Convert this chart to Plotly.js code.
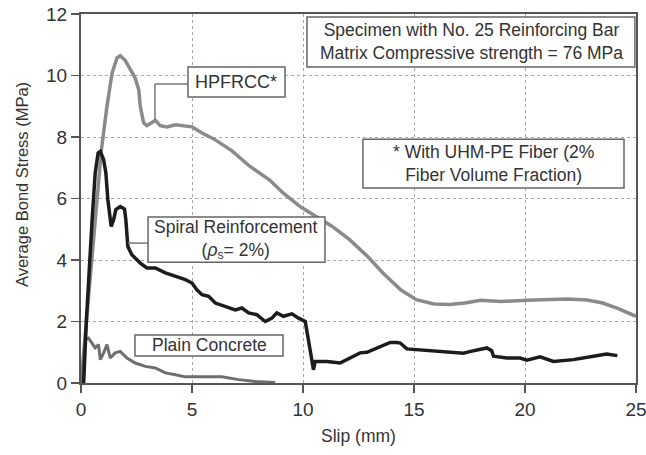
<!DOCTYPE html>
<html>
<head>
<meta charset="utf-8">
<script src="https://cdn.plot.ly/plotly-3.0.1.min.js"></script>
<style>
  html, body { margin: 0; padding: 0; background: #fff; }
  #chart { width: 646px; height: 455px; }
</style>
</head>
<body>
<div id="chart"></div>
<script>
// Bond stress vs. slip for No. 25 bar specimens
const hpfrccSlip = [0, 0.3, 0.6, 0.92, 1.17, 1.40, 1.62, 1.77, 1.99, 2.22, 2.44, 2.60, 2.67, 2.82, 2.97, 3.17, 3.35, 3.57, 3.87, 4.25, 4.70, 5.0, 5.45, 6.0, 6.8, 7.6, 8.5, 9.1, 9.9, 10.6, 11.3, 12.1, 12.9, 13.6, 14.4, 15.1, 15.9, 16.6, 17.3, 18.0, 18.9, 20.1, 21.0, 21.9, 22.8, 23.5, 24.2, 25.0];
const hpfrccStress = [0, 2.5, 5.2, 7.59, 9.0, 10.08, 10.57, 10.64, 10.49, 10.19, 9.92, 9.54, 9.0, 8.46, 8.37, 8.46, 8.54, 8.37, 8.33, 8.40, 8.37, 8.33, 8.13, 7.93, 7.55, 7.05, 6.6, 6.18, 5.72, 5.42, 5.1, 4.66, 4.12, 3.58, 3.03, 2.71, 2.57, 2.55, 2.60, 2.69, 2.65, 2.69, 2.71, 2.73, 2.70, 2.60, 2.42, 2.17];

const spiralSlip = [0.12, 0.24, 0.5, 0.64, 0.77, 0.87, 1.02, 1.12, 1.21, 1.36, 1.47, 1.57, 1.77, 1.96, 2.02, 2.11, 2.29, 2.67, 2.97, 3.35, 3.8, 4.25, 4.7, 5.0, 5.22, 5.45, 5.75, 6.05, 6.5, 6.95, 7.25, 7.55, 7.92, 8.3, 8.6, 8.82, 9.12, 9.5, 9.8, 10.1, 10.32, 10.47, 10.55, 11.08, 11.67, 12.12, 12.57, 12.88, 13.48, 13.93, 14.23, 14.38, 14.68, 15.2, 15.73, 16.5, 17.23, 17.5, 17.98, 18.28, 18.5, 18.58, 19.18, 19.78, 20.08, 20.68, 21.28, 22.18, 23.08, 23.68, 24.16];
const spiralStress = [0, 2.0, 5.3, 6.83, 7.48, 7.53, 7.26, 6.83, 5.96, 5.09, 5.31, 5.64, 5.74, 5.66, 5.31, 4.44, 4.17, 3.90, 3.74, 3.74, 3.58, 3.47, 3.36, 3.25, 3.03, 2.87, 2.82, 2.60, 2.49, 2.38, 2.44, 2.28, 2.22, 2.0, 2.11, 2.28, 2.17, 2.25, 2.11, 2.0, 1.08, 0.43, 0.70, 0.70, 0.65, 0.81, 0.98, 1.0, 1.17, 1.32, 1.32, 1.30, 1.11, 1.08, 1.05, 1.02, 0.97, 1.02, 1.08, 1.14, 1.05, 0.87, 0.81, 0.81, 0.74, 0.85, 0.70, 0.76, 0.87, 0.94, 0.89];

const plainSlip = [0.04, 0.19, 0.34, 0.49, 0.64, 0.79, 0.87, 1.02, 1.17, 1.32, 1.54, 1.77, 2.07, 2.44, 2.9, 3.35, 3.8, 4.25, 4.7, 5.45, 6.35, 7.1, 7.85, 8.75];
const plainStress = [0, 1.41, 1.46, 1.30, 1.14, 1.25, 0.76, 0.98, 1.25, 0.81, 0.98, 1.03, 0.81, 0.65, 0.54, 0.49, 0.33, 0.27, 0.20, 0.20, 0.20, 0.11, 0.05, 0.02];

const xTicks = [0, 5, 10, 15, 20, 25];
const yTicks = [0, 2, 4, 6, 8, 10, 12];

const FONT = 'Liberation Sans, Arial, sans-serif';
const TEXT = '#333333';

const traces = [
  { x: hpfrccSlip, y: hpfrccStress, mode: 'lines', name: 'HPFRCC*',
    line: { color: '#8a8a8a', width: 3.5 } },
  { x: plainSlip, y: plainStress, mode: 'lines', name: 'Plain Concrete',
    line: { color: '#6e6e6e', width: 3 } },
  { x: spiralSlip, y: spiralStress, mode: 'lines', name: 'Spiral Reinforcement',
    line: { color: '#1c1c1c', width: 3.5 } }
];

// label boxes (white, drawn over curves) and leader lines
const box = (x0, x1, y0, y1) => ({
  type: 'rect', xref: 'x', yref: 'y', x0, x1, y0, y1, layer: 'above',
  fillcolor: '#ffffff', line: { color: '#666666', width: 1.5 }
});
const leader = (x0, y0, x1, y1) => ({
  type: 'line', xref: 'x', yref: 'y', x0, y0, x1, y1, layer: 'above',
  line: { color: '#777777', width: 1.5 }
});

const shapes = [
  box(10.18, 24.95, 10.28, 11.9),
  box(12.70, 24.46, 6.34, 7.93),
  leader(3.33, 9.72, 4.82, 9.72),
  leader(3.33, 9.72, 3.33, 8.55),
  box(4.82, 9.19, 9.30, 10.28),
  leader(2.12, 4.55, 3.02, 4.55),
  box(3.02, 10.99, 3.93, 5.40),
  box(2.43, 9.10, 0.88, 1.56)
];

const note = (x, y, text, size) => ({
  xref: 'x', yref: 'y', x, y, text, showarrow: false,
  xanchor: 'center', yanchor: 'middle', align: 'center',
  font: { family: FONT, size: size || 17.5, color: TEXT }
});

const annotations = [
  note(17.57, 11.09, 'Specimen with No. 25 Reinforcing Bar<br>Matrix Compressive strength = 76 MPa', 17.5),
  note(18.58, 7.14, '* With UHM-PE Fiber (2%<br>Fiber Volume Fraction)', 17.5),
  note(7.0, 9.79, 'HPFRCC*', 18),
  note(7.0, 4.67, 'Spiral Reinforcement<br>(<i>ρ</i><sub>s</sub>= 2%)', 17.5),
  note(5.77, 1.22, 'Plain Concrete', 17.5),
  // vertical axis title
  { xref: 'paper', yref: 'paper', x: -0.106, y: 0.537, text: 'Average Bond Stress (MPa)',
    textangle: -90, showarrow: false, xanchor: 'center', yanchor: 'middle',
    font: { family: FONT, size: 16.5, color: TEXT } }
];

const axisCommon = {
  showline: true, mirror: true, linecolor: '#555555', linewidth: 2,
  ticks: 'outside', ticklen: 8, tickwidth: 1.5, tickcolor: '#555555',
  showgrid: true, gridcolor: '#a8a8a8', gridwidth: 1, griddash: 'dot',
  zeroline: false, ticklabeloverflow: 'allow',
  tickfont: { family: FONT, size: 19, color: TEXT }
};

const layout = {
  width: 646, height: 455,
  margin: { l: 81, r: 10, t: 14, b: 72 },
  paper_bgcolor: '#ffffff', plot_bgcolor: '#ffffff',
  showlegend: false,
  xaxis: Object.assign({}, axisCommon, {
    range: [0, 25], tickvals: xTicks,
    title: { text: 'Slip (mm)', standoff: 11, font: { family: FONT, size: 17.5, color: TEXT } }
  }),
  yaxis: Object.assign({}, axisCommon, {
    range: [0, 12], tickvals: yTicks
  }),
  shapes, annotations
};

Plotly.newPlot('chart', traces, layout, { displayModeBar: false, staticPlot: true });
</script>
</body>
</html>
